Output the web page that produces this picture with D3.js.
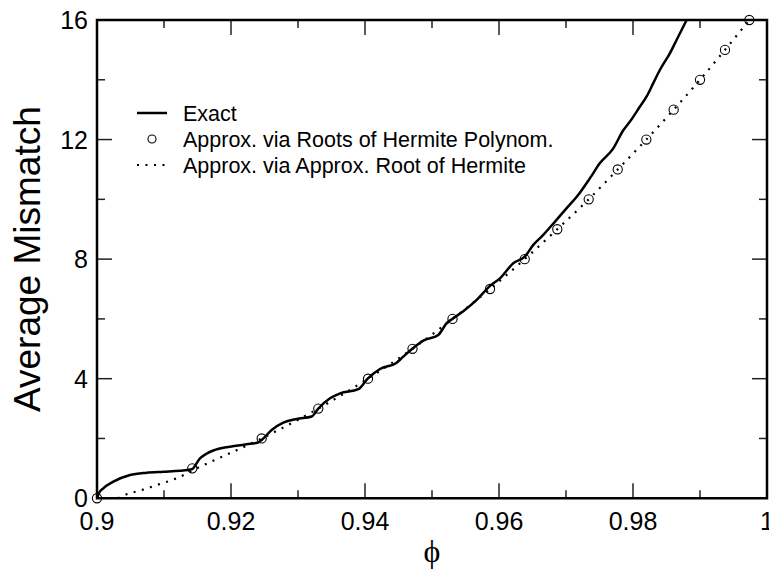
<!DOCTYPE html>
<html>
<head>
<meta charset="utf-8">
<script src="https://cdn.jsdelivr.net/npm/d3@7"></script>
<style>
  html, body { margin: 0; padding: 0; background: #fff; }
  svg { display: block; }
</style>
</head>
<body>
<svg id="chart" width="769" height="571"></svg>
<script>
// ---- data ----
const exactX = [0.9000, 0.90030, 0.90094, 0.90243, 0.90493, 0.90742, 0.90990, 0.91239, 0.91413,
  0.91537, 0.91627, 0.91736, 0.91985, 0.92234, 0.92403, 0.92458, 0.92607, 0.92781, 0.92981,
  0.93204, 0.93303, 0.93478, 0.93627, 0.93900, 0.94040, 0.94224, 0.94473, 0.94567, 0.94706,
  0.94870, 0.95094, 0.95219, 0.95303, 0.95467, 0.95667, 0.95866, 0.96015, 0.96213, 0.96388,
  0.96512, 0.96661, 0.96836, 0.97010, 0.97160, 0.97358, 0.97507, 0.97706, 0.97855, 0.97955,
  0.98104, 0.98204, 0.98303, 0.98403, 0.98552, 0.98652, 0.98801];
const exactY = [0, 0.176, 0.333, 0.554, 0.778, 0.855, 0.889, 0.922, 0.969,
  1.337, 1.481, 1.598, 1.726, 1.806, 1.866, 1.950, 2.285, 2.529, 2.653,
  2.736, 3.001, 3.346, 3.506, 3.647, 4.002, 4.326, 4.537, 4.728, 5.003,
  5.274, 5.464, 5.856, 6.000, 6.258, 6.636, 7.105, 7.356, 7.864, 8.092,
  8.477, 8.812, 9.257, 9.705, 10.084, 10.710, 11.212, 11.707, 12.310, 12.604,
  13.106, 13.441, 13.890, 14.335, 14.894, 15.339, 16.0];

const rootsX = [0.9000, 0.91422, 0.92458, 0.93303, 0.94045, 0.94709, 0.95306, 0.95866, 0.96384,
  0.96870, 0.97339, 0.97772, 0.98199, 0.98607, 0.99000, 0.99373, 0.99736];
const rootsY = [0, 1, 2, 3, 4, 5, 6, 7, 8, 9, 10, 11, 12, 13, 14, 15, 16];

const approxX = [0.90310, 0.90418, 0.90667, 0.90940, 0.91189, 0.91437, 0.92458, 0.93303, 0.94045,
  0.94709, 0.95306, 0.95866, 0.96384, 0.96870, 0.97339, 0.97772, 0.98199, 0.98607, 0.99000,
  0.99373, 0.99736];
const approxY = [0, 0.109, 0.276, 0.477, 0.668, 0.945, 2, 3, 4,
  5, 6, 7, 8, 9, 10, 11, 12, 13, 14,
  15, 16];

const xTicksMajor = [0.9, 0.92, 0.94, 0.96, 0.98, 1.0];
const xTickLabels = ["0.9", "0.92", "0.94", "0.96", "0.98", "1"];
const xTicksMinor = [0.91, 0.93, 0.95, 0.97, 0.99];
const yTicksMajor = [0, 4, 8, 12, 16];
const yTickLabels = ["0", "4", "8", "12", "16"];
const yTicksMinor = [2, 6, 10, 14];

const legendLabels = ["Exact", "Approx. via Roots of Hermite Polynom.", "Approx. via Approx. Root of Hermite"];

// ---- layout ----
const svg = d3.select("#chart");
const L = 97, R = 767, T = 20, B = 498.25;
const x = d3.scaleLinear().domain([0.9, 1.0]).range([L, R]);
const y = d3.scaleLinear().domain([0, 16]).range([B, T]);
const font = "'Liberation Sans', Arial, Helvetica, sans-serif";

const clipId = "plotclip";
svg.append("defs").append("clipPath").attr("id", clipId)
  .append("rect").attr("x", L).attr("y", T).attr("width", R - L).attr("height", B - T);

const plot = svg.append("g").attr("clip-path", `url(#${clipId})`);

// dotted approx curve
const approxData = approxX.map((v, i) => [v, approxY[i]]);
plot.append("path")
  .datum(approxData)
  .attr("fill", "none")
  .attr("stroke", "#000")
  .attr("stroke-width", 2.2)
  .attr("stroke-dasharray", "2,6.5")
  .attr("d", d3.line().x(d => x(d[0])).y(d => y(d[1])).curve(d3.curveMonotoneX));

// exact
const exactData = exactX.map((v, i) => [v, exactY[i]]);
plot.append("path")
  .datum(exactData)
  .attr("fill", "none")
  .attr("stroke", "#000")
  .attr("stroke-width", 2.5)
  .attr("stroke-linejoin", "round")
  .attr("d", d3.line().x(d => x(d[0])).y(d => y(d[1])).curve(d3.curveMonotoneX));

// circles
svg.append("g").selectAll("circle")
  .data(rootsX.map((v, i) => [v, rootsY[i]]))
  .join("circle")
  .attr("cx", d => x(d[0]))
  .attr("cy", d => y(d[1]))
  .attr("r", 4.6)
  .attr("fill", "none")
  .attr("stroke", "#000")
  .attr("stroke-width", 1.1);

// ---- axes (mirrored, inward ticks) ----
const tickColor = "#222";
function ticks(g, scale, vals, len, side) {
  g.selectAll(null).data(vals).join("line")
    .attr("stroke", tickColor).attr("stroke-width", 1.5)
    .each(function(v) {
      const s = d3.select(this);
      if (side === "bottom") s.attr("x1", scale(v)).attr("x2", scale(v)).attr("y1", B).attr("y2", B - len);
      if (side === "top") s.attr("x1", scale(v)).attr("x2", scale(v)).attr("y1", T).attr("y2", T + len);
      if (side === "left") s.attr("y1", scale(v)).attr("y2", scale(v)).attr("x1", L).attr("x2", L + len);
      if (side === "right") s.attr("y1", scale(v)).attr("y2", scale(v)).attr("x1", R).attr("x2", R - len);
    });
}
const axG = svg.append("g");
["bottom", "top"].forEach(s => { ticks(axG, x, xTicksMajor, 15, s); ticks(axG, x, xTicksMinor, 8, s); });
["left", "right"].forEach(s => { ticks(axG, y, yTicksMajor, 15, s); ticks(axG, y, yTicksMinor, 8, s); });

axG.append("rect")
  .attr("x", L).attr("y", T).attr("width", R - L).attr("height", B - T)
  .attr("fill", "none").attr("stroke", "#000").attr("stroke-width", 2.5);

// tick labels
svg.append("g").selectAll("text").data(xTicksMajor).join("text")
  .attr("x", d => x(d)).attr("y", 529.5)
  .attr("text-anchor", "middle")
  .attr("font-family", font).attr("font-size", 25)
  .text((d, i) => xTickLabels[i]);

svg.append("g").selectAll("text").data(yTicksMajor).join("text")
  .attr("x", 88).attr("y", d => y(d))
  .attr("dy", "0.36em")
  .attr("text-anchor", "end")
  .attr("font-family", font).attr("font-size", 25)
  .text((d, i) => yTickLabels[i]);

// axis titles
svg.append("text")
  .attr("transform", `translate(40,${(T + B) / 2}) rotate(-90)`)
  .attr("text-anchor", "middle")
  .attr("font-family", font).attr("font-size", 37)
  .text("Average Mismatch");

svg.append("text")
  .attr("x", (L + R) / 2).attr("y", 562)
  .attr("text-anchor", "middle")
  .attr("font-family", "'Liberation Serif', 'Times New Roman', serif").attr("font-size", 32)
  .text("ϕ");

// legend
const lg = svg.append("g");
const rowY = [113, 139, 165];
lg.append("line").attr("x1", 137).attr("x2", 167).attr("y1", rowY[0]).attr("y2", rowY[0])
  .attr("stroke", "#000").attr("stroke-width", 2.5);
lg.append("circle").attr("cx", 152).attr("cy", rowY[1]).attr("r", 4).attr("fill", "none")
  .attr("stroke", "#000").attr("stroke-width", 1.1);
lg.append("line").attr("x1", 137).attr("x2", 167).attr("y1", rowY[2]).attr("y2", rowY[2])
  .attr("stroke", "#000").attr("stroke-width", 2.2).attr("stroke-dasharray", "2,6.5");
lg.selectAll("text").data(legendLabels).join("text")
  .attr("x", 183).attr("y", (d, i) => rowY[i]).attr("dy", "0.36em")
  .attr("font-family", font).attr("font-size", 21.5)
  .text(d => d);
</script>
</body>
</html>
